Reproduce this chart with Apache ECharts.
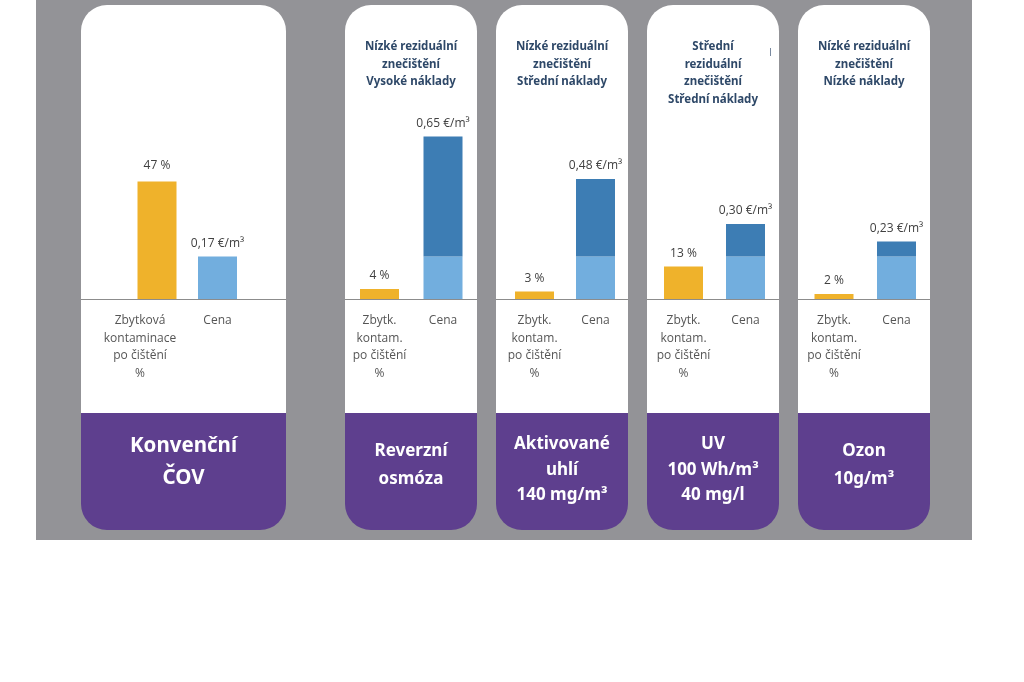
<!DOCTYPE html>
<html><head><meta charset="utf-8">
<script src="https://cdn.jsdelivr.net/npm/echarts@6/dist/echarts.min.js"></script>
<style>html,body{margin:0;padding:0;background:#fff}#c{width:1024px;height:682px}</style>
</head><body><div id="c"></div>
<script>
// ---- data ----
const technologies = ['Konvenční ČOV', 'Reverzní osmóza', 'Aktivované uhlí', 'UV', 'Ozon'];
const contamination = [47, 4, 3, 13, 2];              // residual contamination, %
const cost = [0.17, 0.65, 0.48, 0.30, 0.23];          // €/m3
const baseCost = 0.17;                                 // conventional WWTP cost (light blue part)
const headerLines = [
  [],
  ['Nízké reziduální', 'znečištění', 'Vysoké náklady'],
  ['Nízké reziduální', 'znečištění', 'Střední náklady'],
  ['Střední', 'reziduální', 'znečištění', 'Střední náklady'],
  ['Nízké reziduální', 'znečištění', 'Nízké náklady']
];
const nameLines = [
  ['Konvenční', 'ČOV'],
  ['Reverzní', 'osmóza'],
  ['Aktivované', 'uhlí', '140 mg/m³'],
  ['UV', '100 Wh/m³', '40 mg/l'],
  ['Ozon', '10g/m³']
];
const axisCatsFirst = ['Zbytková\nkontaminace\npo čištění\n%', 'Cena'];
const axisCatsOther = ['Zbytk.\nkontam.\npo čištění\n%', 'Cena'];

// ---- layout ----
const cards = [[81, 286], [345, 477], [496, 628], [647, 779], [798, 930]];
const barCenters = [[157, 217.5], [379.5, 443], [534.5, 595.5], [683.5, 745.5], [834, 896.5]];
const baseY = 299, cardTop = 5, cardBottom = 530, purpleTop = 413, R = 26;
const pxPerUnit = 2.5;
const yMax = 100, costMax = 1.0;

const YELLOW = '#EFB22B', LIGHT = '#72AEDE', DARK = '#3D7DB4', PURPLE = '#5E3F8E', GREY_BG = '#939397';

const grids = [], xAxes = [], yAxes = [], series = [], graphics = [];

graphics.push({type: 'rect', z: 0, shape: {x: 36, y: 0, width: 936, height: 540}, style: {fill: GREY_BG}, silent: true});

const fmtCost = v => v.toFixed(2).replace('.', ',') + ' €/m³';
const valLabel = {color: '#404040', fontSize: 12, fontFamily: 'Open Sans', distance: 7};

cards.forEach((c, i) => {
  const [x0, x1] = c, w = x1 - x0;
  graphics.push({type: 'rect', z: 0, silent: true,
    shape: {x: x0, y: cardTop, width: w, height: purpleTop - cardTop, r: [R, R, 0, 0]},
    style: {fill: '#ffffff'}});
  graphics.push({type: 'rect', z: 0, silent: true,
    shape: {x: x0, y: purpleTop, width: w, height: cardBottom - purpleTop, r: [0, 0, R, R]},
    style: {fill: PURPLE}});
  graphics.push({type: 'line', z: 1, silent: true,
    shape: {x1: x0, y1: baseY + 0.5, x2: x1, y2: baseY + 0.5},
    style: {stroke: '#8c8c8c', lineWidth: 1}});
  const hl = headerLines[i];
  if (hl.length) {
    graphics.push({type: 'text', z: 3, silent: true,
      style: {x: (x0 + x1) / 2, y: 38, text: hl.join('\n'), textAlign: 'center', textVerticalAlign: 'top',
        fill: '#2E4868', font: 'bold 11.5px "Noto Sans"', lineHeight: 17.5}});
  }
  const nl = nameLines[i];
  const fs = i === 0 ? 20.5 : 17;
  const lh = i === 0 ? 32 : (nl.length === 3 ? 25.5 : 28);
  const centerY = i === 0 ? 462 : (nl.length === 3 ? 470 : 465);
  graphics.push({type: 'text', z: 3, silent: true,
    style: {x: (x0 + x1) / 2, y: centerY, text: nl.join('\n'), textAlign: 'center', textVerticalAlign: 'middle',
      fill: '#ffffff', font: `bold ${fs}px "Noto Sans"`, lineHeight: lh}});

  const [ca, cb] = barCenters[i];
  const d = cb - ca;
  const gl = ca - d / 2, gr = cb + d / 2;
  grids.push({left: gl, width: gr - gl, top: baseY - yMax * pxPerUnit, height: yMax * pxPerUnit});
  const cats = (i === 0 ? axisCatsFirst : axisCatsOther).map((v, k) =>
    (i === 0 && k === 0) ? {value: v, textStyle: {padding: [0, 34, 0, 0]}} : v);
  xAxes.push({type: 'category', gridIndex: i, data: cats,
    axisLine: {show: false}, axisTick: {show: false}, z: 3,
    axisLabel: {color: '#555', fontSize: 12, fontFamily: 'Open Sans', lineHeight: 17.5, margin: 13,
      verticalAlign: 'top', interval: 0}});
  yAxes.push({type: 'value', gridIndex: i, min: 0, max: yMax, show: false});
  yAxes.push({type: 'value', gridIndex: i, min: 0, max: costMax, show: false});

  const base = Math.min(cost[i], baseCost);
  const top = +(cost[i] - base).toFixed(4);
  series.push({type: 'bar', xAxisIndex: i, yAxisIndex: 2 * i, barWidth: 39, barGap: '-100%',
    itemStyle: {color: YELLOW}, silent: true,
    label: Object.assign({show: true, position: 'top', formatter: p => p.value + ' %'}, valLabel, i === 0 ? {distance: 10} : {}),
    data: [contamination[i], '-']});
  series.push({type: 'bar', xAxisIndex: i, yAxisIndex: 2 * i + 1, stack: 'cost' + i, barWidth: 39, barGap: '-100%',
    itemStyle: {color: LIGHT}, silent: true,
    data: ['-', top > 0 ? base : {value: base, label: Object.assign({show: true, position: 'top', formatter: fmtCost(cost[i])}, valLabel)}]});
  if (top > 0) {
    series.push({type: 'bar', xAxisIndex: i, yAxisIndex: 2 * i + 1, stack: 'cost' + i, barWidth: 39, barGap: '-100%',
      itemStyle: {color: DARK}, silent: true,
      data: ['-', {value: top, label: Object.assign({show: true, position: 'top', formatter: fmtCost(cost[i])}, valLabel)}]});
  }
});
graphics.push({type: 'line', z: 3, silent: true, shape: {x1: 770.5, y1: 48, x2: 770.5, y2: 56}, style: {stroke: '#7a8aa0', lineWidth: 1}});

const chart = echarts.init(document.getElementById('c'), null, {renderer: 'canvas'});
chart.setOption({
  animation: false,
  backgroundColor: '#ffffff',
  graphic: graphics,
  grid: grids,
  xAxis: xAxes,
  yAxis: yAxes,
  series: series
});
</script></body></html>
